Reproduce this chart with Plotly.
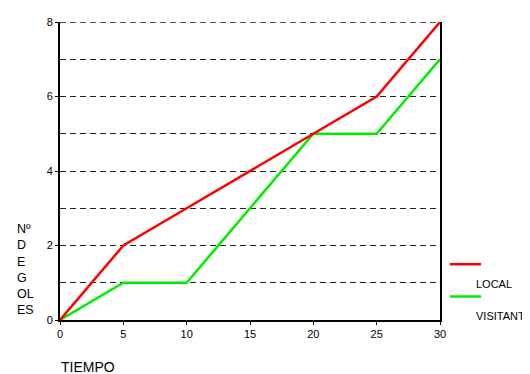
import plotly.graph_objects as go

tiempo = [0, 5, 10, 15, 20, 25, 30]
local = [0, 2, 3, 4, 5, 6, 8]
visitant = [0, 1, 1, 3, 5, 5, 7]

y_ticks = [0, 2, 4, 6, 8]
x_ticks = [0, 5, 10, 15, 20, 25, 30]

FONT = "Liberation Sans, Arial, sans-serif"

fig = go.Figure()

fig.add_trace(go.Scatter(x=tiempo, y=visitant, mode='lines', name='VISITANT',
                         line=dict(color='#00ee00', width=2.5)))
fig.add_trace(go.Scatter(x=tiempo, y=local, mode='lines', name='LOCAL',
                         line=dict(color='#ff0000', width=2.5)))

# page body has an 8px margin, so the figure is a bit smaller than the window
fig.update_layout(
    width=522, height=366,
    margin=dict(l=52, r=90, t=8, b=54),
    paper_bgcolor='white',
    plot_bgcolor='white',
    showlegend=False,
    font=dict(family=FONT, size=11, color='black'),
)

fig.update_xaxes(
    range=[0, 30],
    tickvals=x_ticks,
    ticks='outside', ticklen=3, tickcolor='black',
    showgrid=False, zeroline=False,
    showline=True, linecolor='black', linewidth=2,
    tickfont=dict(size=11),
)

fig.update_yaxes(
    range=[0, 8],
    tickvals=y_ticks,
    ticks='outside', ticklen=3, tickcolor='black',
    showgrid=True, gridcolor='#222', gridwidth=1, griddash='6px,4px',
    minor=dict(dtick=1, showgrid=True, gridcolor='#222', gridwidth=1, griddash='6px,4px'),
    zeroline=False,
    showline=True, linecolor='black', linewidth=2, mirror=True,
    tickfont=dict(size=11),
)

# plotly skips the gridline at the top edge, draw it by hand
fig.add_shape(type='line', xref='paper', yref='y', x0=0, x1=1, y0=max(y_ticks), y1=max(y_ticks),
              line=dict(color='#222', width=1.5, dash='6px,4px'), layer='below')

# axis titles
fig.add_annotation(text="Nº<br>D<br>E<br>G<br>OL<br>ES", xref='paper', yref='paper',
                   x=-0.118, y=0.335, xanchor='left', yanchor='top', align='left',
                   showarrow=False, font=dict(size=12.5, family=FONT))
fig.add_annotation(text="TIEMPO", xref='paper', yref='paper',
                   x=-0.003, y=-0.158, xanchor='left', yanchor='middle',
                   showarrow=False, font=dict(size=14, family=FONT))

# legend
fig.add_shape(type='line', xref='paper', yref='paper', x0=1.026, x1=1.108, y0=0.1875, y1=0.1875,
              line=dict(color='#ff0000', width=2.5))
fig.add_annotation(text="LOCAL", xref='paper', yref='paper', x=1.09, y=0.122,
                   xanchor='left', yanchor='middle', showarrow=False, font=dict(size=11, family=FONT))
fig.add_shape(type='line', xref='paper', yref='paper', x0=1.026, x1=1.108, y0=0.079, y1=0.079,
              line=dict(color='#00ee00', width=2.5))
fig.add_annotation(text="VISITANT", xref='paper', yref='paper', x=1.09, y=0.013,
                   xanchor='left', yanchor='middle', showarrow=False, font=dict(size=11, family=FONT))

fig.write_html("out.html")
